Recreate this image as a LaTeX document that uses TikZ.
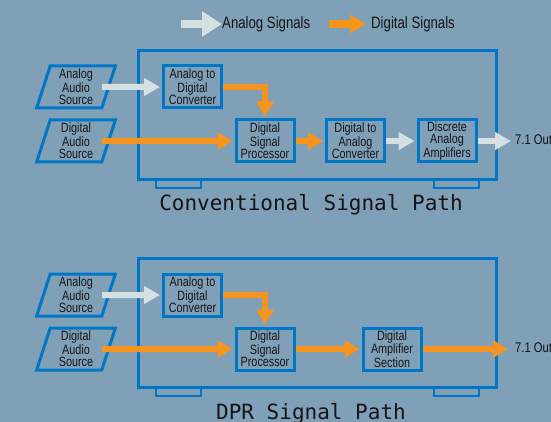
\documentclass[tikz,border=0pt]{standalone}
\usepackage{fontspec}
\setmainfont{Liberation Sans}[FakeStretch=0.8]
\newfontfamily\pathfont{DejaVu Sans Mono}
\usetikzlibrary{arrows.meta,shapes.geometric}
\definecolor{bgblue}{RGB}{127,160,183}
\definecolor{boxblue}{RGB}{0,118,198}
\definecolor{sigorange}{RGB}{247,148,30}
\definecolor{sigwhite}{RGB}{213,224,227}
\definecolor{txt}{RGB}{20,20,25}
\tikzstyle{box} = [draw = boxblue, line width = 3pt, minimum width = 58pt, minimum height = 42pt, inner sep = 0pt, align = center, text = txt, font = \fontsize{13.5}{12.5}\selectfont]
\tikzstyle{source} = [trapezium, trapezium left angle = 76, trapezium right angle = 104, trapezium stretches = true, draw = boxblue, line width = 3pt, minimum width = 79pt, minimum height = 42pt, inner sep = 0pt, align = center, text = txt, font = \fontsize{13.5}{12.5}\selectfont]
\tikzstyle{lbl} = [inner sep = 0pt, text = txt, font = \fontsize{14}{14}\selectfont]
\tikzstyle{analog} = [draw = sigwhite, line width = 6pt, -{Triangle[length = 16pt, width = 17pt]}]
\tikzstyle{digital} = [draw = sigorange, line width = 6pt, -{Triangle[length = 15pt, width = 17pt]}]
\tikzstyle{chassis} = [draw = boxblue, line width = 3pt]
\tikzstyle{pathname} = [inner sep = 0pt, anchor = base, text = txt, font = \pathfont\fontsize{21}{21}\selectfont]

\begin{document}
\begin{tikzpicture}[x = 1pt, y = -1pt]
    \useasboundingbox (0, 0) rectangle (551, 422);
    \clip (0, 0) rectangle (551, 422);
    \fill [bgblue] (0, 0) rectangle (551, 422);

    % legend
    \coordinate (lana) at (181, 24);
    \node (lanatxt) at (222, 24) [lbl, anchor = west, font = \fontsize{16.5}{16.5}\selectfont] {Analog Signals};
    \draw [draw = sigwhite, line width = 8pt, -{Triangle[length = 20pt, width = 24pt]}] (lana) -- (lanatxt);
    \coordinate (ldig) at (329, 24);
    \node (ldigtxt) at (371, 24) [lbl, anchor = west, font = \fontsize{16.5}{16.5}\selectfont] {Digital Signals};
    \draw [draw = sigorange, line width = 8pt, -{Triangle[length = 16pt, width = 18pt]}, shorten >= 5pt] (ldig) -- (ldigtxt);

    % conventional signal path
    \draw [chassis] (138.5, 50.5) rectangle (496.5, 179.5);
    \draw [chassis, line width = 2.5pt] (156, 180) rectangle (201, 188);
    \draw [chassis, line width = 2.5pt] (434, 180) rectangle (479, 188);
    \node (asrc1) at (76, 87) [source] {Analog\\Audio\\Source};
    \node (dsrc1) at (76, 141) [source] {Digital\\Audio\\Source};
    \node (adc1) at (192.5, 87) [box] {Analog to\\Digital\\Converter};
    \node (dsp1) at (265, 141) [box] {Digital\\Signal\\Processor};
    \node (dac1) at (355.5, 141) [box] {Digital to\\Analog\\Converter};
    \node (amp1) at (447, 141) [box] {Discrete\\Analog\\Amplifiers};
    \node (out1) at (515, 141) [lbl, anchor = west] {7.1 Output};
    \draw [analog, shorten <= -8pt, shorten >= 2pt] (asrc1.east) -- (adc1);
    \draw [digital, shorten <= -8pt, shorten >= 2pt] (dsrc1.east) -- (dsp1);
    \draw [digital, shorten >= 2pt] (adc1.east) -| (dsp1.north);
    \draw [digital, shorten >= 2pt] (dsp1) -- (dac1);
    \draw [analog, shorten >= 2pt] (dac1) -- (amp1);
    \draw [analog, shorten >= 4pt] (amp1) -- (out1);
    \node (conv) at (311, 211) [pathname] {Conventional Signal Path};

    % DPR signal path
    \draw [chassis] (138.5, 258.5) rectangle (496.5, 387.5);
    \draw [chassis, line width = 2.5pt] (156, 388) rectangle (201, 396);
    \draw [chassis, line width = 2.5pt] (434, 388) rectangle (479, 396);
    \node (asrc2) at (76, 295) [source] {Analog\\Audio\\Source};
    \node (dsrc2) at (76, 349) [source] {Digital\\Audio\\Source};
    \node (adc2) at (192.5, 295) [box] {Analog to\\Digital\\Converter};
    \node (dsp2) at (265, 349) [box] {Digital\\Signal\\Processor};
    \node (damp2) at (392, 349) [box] {Digital\\Amplifier\\Section};
    \node (out2) at (515, 349) [lbl, anchor = west] {7.1 Output};
    \draw [analog, shorten <= -8pt, shorten >= 2pt] (asrc2.east) -- (adc2);
    \draw [digital, shorten <= -8pt, shorten >= 2pt] (dsrc2.east) -- (dsp2);
    \draw [digital, shorten >= 2pt] (adc2.east) -| (dsp2.north);
    \draw [digital, shorten >= 2pt] (dsp2) -- (damp2);
    \draw [digital, shorten >= 7pt] (damp2) -- (out2);
    \node (dpr) at (311, 419) [pathname] {DPR Signal Path};
\end{tikzpicture}
\end{document}
